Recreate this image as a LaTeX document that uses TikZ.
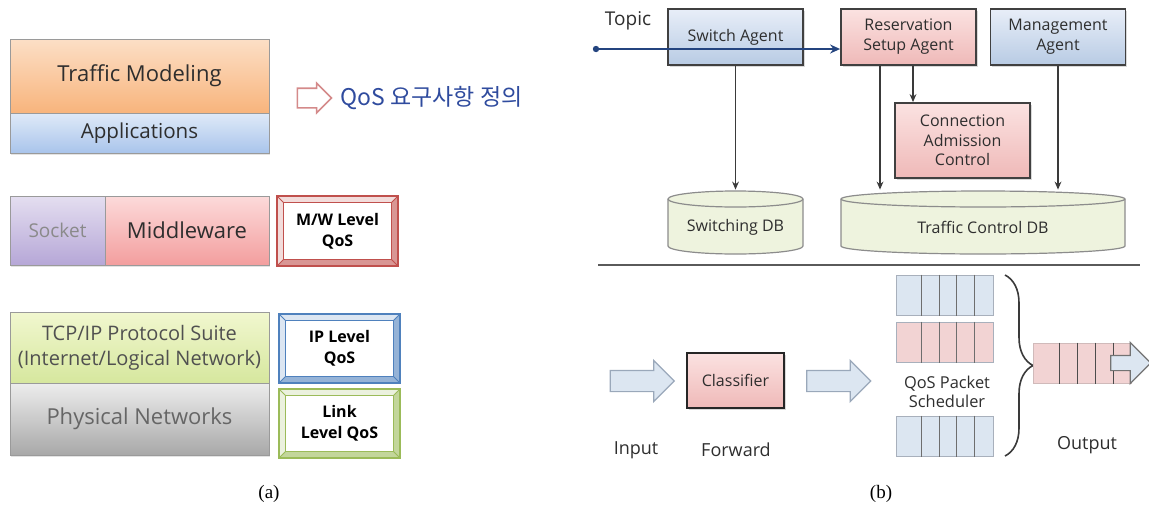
\documentclass[tikz,border=0pt]{standalone}
\usepackage{fontspec}
\setmainfont{Open Sans}
\newfontfamily\krfont{Noto Sans CJK KR}
\newfontfamily\capfont{Liberation Serif}
\usetikzlibrary{shapes.arrows,calc,decorations.pathreplacing,shadows,arrows.meta}

\definecolor{txtdark}{HTML}{2E2E2E}
\definecolor{lyrline}{HTML}{9A9A9A}
\definecolor{tmtop}{HTML}{FCDFC6}
\definecolor{tmbot}{HTML}{F8B47C}
\definecolor{apptop}{HTML}{DFEAF8}
\definecolor{appbot}{HTML}{A9C4EB}
\definecolor{socktop}{HTML}{E4DEF0}
\definecolor{sockbot}{HTML}{B6A7D7}
\definecolor{socktext}{HTML}{8A8A8A}
\definecolor{midtop}{HTML}{FCDADA}
\definecolor{midbot}{HTML}{F39E9E}
\definecolor{tcptop}{HTML}{F1F7CF}
\definecolor{tcpbot}{HTML}{D6E79E}
\definecolor{tcptext}{HTML}{505050}
\definecolor{phytop}{HTML}{EDEDED}
\definecolor{phybot}{HTML}{A8A8A8}
\definecolor{phytext}{HTML}{666666}
\definecolor{krblue}{HTML}{2F4B9E}
\definecolor{hollowline}{HTML}{D48A8A}
\definecolor{mwline}{HTML}{C0504D}
\definecolor{mwlight}{HTML}{F2DCDB}
\definecolor{mwdark}{HTML}{D99694}
\definecolor{ipline}{HTML}{4F81BD}
\definecolor{iplight}{HTML}{DCE6F2}
\definecolor{ipdark}{HTML}{95B3D7}
\definecolor{lkline}{HTML}{9BBB59}
\definecolor{lklight}{HTML}{EBF1DE}
\definecolor{lkdark}{HTML}{C3D69B}
\definecolor{agentline}{HTML}{404040}
\definecolor{bluetop}{HTML}{E8EEF8}
\definecolor{bluebot}{HTML}{B8CBE4}
\definecolor{pinktop}{HTML}{FBE2E1}
\definecolor{pinkbot}{HTML}{EFB9B8}
\definecolor{connline}{HTML}{3A3A3A}
\definecolor{topicblue}{HTML}{24447F}
\definecolor{dbfill}{HTML}{EEF3DE}
\definecolor{dbline}{HTML}{8C8C8C}
\definecolor{rulegray}{HTML}{5A5A5A}
\definecolor{arrfill}{HTML}{DCE6F1}
\definecolor{arrline}{HTML}{9AA8BA}
\definecolor{qblue}{HTML}{DCE6F1}
\definecolor{qpink}{HTML}{F2D3D3}
\definecolor{qline}{HTML}{A8B0BC}
\definecolor{divline}{HTML}{6E6E6E}

\newcommand\fs[2]{\fontsize{#1}{#2}\selectfont}
\newcommand\bevelframe[4]{%
  \fill[#3] (#1.north west) -- (#1.north east) -- ($(#1.north east)+(-7,7)$) -- ($(#1.north west)+(7,7)$) -- cycle;
  \fill[#3] (#1.north west) -- ($(#1.north west)+(7,7)$) -- ($(#1.south west)+(7,-7)$) -- (#1.south west) -- cycle;
  \fill[#4] (#1.north east) -- (#1.south east) -- ($(#1.south east)+(-7,-7)$) -- ($(#1.north east)+(-7,7)$) -- cycle;
  \fill[#4] (#1.south west) -- (#1.south east) -- ($(#1.south east)+(-7,-7)$) -- ($(#1.south west)+(7,-7)$) -- cycle;
  \draw[#2, line width=0.5pt] (#1.north west) -- ($(#1.north west)+(7,7)$) (#1.north east) -- ($(#1.north east)+(-7,7)$)
       (#1.south west) -- ($(#1.south west)+(7,-7)$) (#1.south east) -- ($(#1.south east)+(-7,-7)$);
  \draw[#2, line width=1pt] (#1.north west) rectangle (#1.south east);
  \draw[#2, line width=0.6pt] ($(#1.north west)+(7,7)$) rectangle ($(#1.south east)+(-7,-7)$);
}
\newcommand\dbcyl[3]{%
  \filldraw[fill=dbfill, draw=dbline, line width=0.6pt] (#1,199) -- (#1,246)
     arc[start angle=180, end angle=360, x radius=#3, y radius=4pt] -- (#2,199)
     arc[start angle=0, end angle=180, x radius=#3, y radius=4pt] -- cycle;
  \draw[dbline, line width=0.6pt] (#1,199) arc[start angle=180, end angle=360, x radius=#3, y radius=4pt];
}

\begin{document}
\begin{tikzpicture}[x=0.5pt,y=-0.5pt,
  lyr/.style={draw=lyrline, line width=0.5pt, inner sep=0pt, align=center, text=txtdark,
    drop shadow={shadow xshift=0.6pt, shadow yshift=-0.9pt, opacity=0.22}},
  bevelnode/.style={fill=white, inner sep=0pt, minimum width=60.5pt, minimum height=34.5pt,
    align=center, font=\bfseries\fs{8}{10.3}, text=black},
  agent/.style={draw=agentline, line width=0.9pt, inner sep=0pt, align=center,
    minimum width=67.5pt, minimum height=28pt, font=\fs{8}{10}, text=txtdark,
    drop shadow={shadow xshift=0.8pt, shadow yshift=-0.8pt, opacity=0.3}},
  blueg/.style={top color=bluetop, bottom color=bluebot},
  pinkg/.style={top color=pinktop, bottom color=pinkbot},
  conn/.style={draw=connline, line width=0.6pt, -{Stealth[length=4pt,width=3.4pt]}},
  hollowarr/.style={single arrow, draw=hollowline, fill=white, line width=0.8pt,
    minimum height=17pt, minimum width=14pt, inner xsep=0pt, inner ysep=4.5pt,
    single arrow head extend=2.5pt},
  blockarr/.style={single arrow, draw=arrline, fill=arrfill, line width=0.6pt,
    minimum height=32pt, minimum width=20pt, inner xsep=0pt, inner ysep=5pt,
    single arrow head extend=5pt},
  queue/.style={draw=qline, line width=0.5pt, minimum width=48.5pt, minimum height=20pt, inner sep=0pt},
  divider/.style={divline, line width=0.6pt},
  lbl/.style={font=\fs{9}{11}, text=txtdark},
  dbtxt/.style={font=\fs{8}{10}, text=txtdark, minimum height=37pt, inner sep=0pt},
  captxt/.style={font=\capfont\fs{9.5}{11}, text=black}
]
\useasboundingbox (0,0) rectangle (1149,509);

% ---------------- (a) ----------------
\node[lyr, top color=tmtop, bottom color=tmbot, minimum width=129.5pt, minimum height=37pt,
      font=\fs{11}{13}] (tm) at (139.5,76) {Traffic Modeling};
\node[lyr, top color=apptop, bottom color=appbot, minimum width=129.5pt, minimum height=20pt,
      font=\fs{10.3}{12}] (app) at (139.5,133) {Applications};
\node[hollowarr] (qarr) at (309.5,98) {};
\node[font=\krfont\fs{11.5}{13}, text=krblue, anchor=west, inner sep=0pt] (qtxt) at (340,98) {QoS 요구사항 정의};

\node[lyr, top color=socktop, bottom color=sockbot, minimum width=47.5pt, minimum height=34.5pt,
      font=\fs{9.5}{11}, text=socktext] (sock) at (57.5,230.5) {Socket};
\node[lyr, top color=midtop, bottom color=midbot, minimum width=82pt, minimum height=34.5pt,
      font=\fs{11}{13}] (mid) at (187,230.5) {Middleware};
\node[bevelnode, minimum height=35pt] (mw) at (337.5,231) {M/W Level\\QoS};
\bevelframe{mw}{mwline}{mwlight}{mwdark}

\node[lyr, top color=tcptop, bottom color=tcpbot, minimum width=129.5pt, minimum height=35.5pt,
      font=\fs{10}{12.5}, text=tcptext] (tcp) at (139.5,347.5) {TCP/IP Protocol Suite\\(Internet/Logical Network)};
\node[lyr, top color=phytop, bottom color=phybot, minimum width=129.5pt, minimum height=36pt,
      font=\fs{11}{13}, text=phytext] (phy) at (139.5,419) {Physical Networks};
\node[bevelnode] (ip) at (339.5,348.5) {IP Level\\QoS};
\bevelframe{ip}{ipline}{iplight}{ipdark}
\node[bevelnode] (link) at (339.5,423.5) {Link\\Level QoS};
\bevelframe{link}{lkline}{lklight}{lkdark}

\node[captxt] (capa) at (269,494) {(a)};

% ---------------- (b) ----------------
\node[font=\fs{9.5}{11}, text=txtdark] (topic) at (628,21) {Topic};
\node[agent, blueg] (sa) at (735.5,37) {Switch Agent};
\node[agent, pinkg] (rsa) at (908.5,37) {Reservation\\Setup Agent};
\node[agent, blueg] (ma) at (1058,37) {Management\\Agent};
\node[agent, pinkg, minimum height=37.5pt, font=\fs{8}{9.75}] (cac) at (962.5,140.5) {Connection\\Admission\\Control};

\dbcyl{668}{803}{33.75pt}
\dbcyl{841}{1125}{71pt}
\node[dbtxt, minimum width=67.5pt] (swdb) at (735.5,227) {Switching DB};
\node[dbtxt, minimum width=142pt] (tcdb) at (983,227) {Traffic Control DB};

\draw[conn] (sa.south) -- (sa.south |- swdb.north);
\coordinate (r1) at ([xshift=-14.25pt]rsa.south);
\coordinate (r2) at ([xshift=2.25pt]rsa.south);
\draw[conn] (r1) -- (r1 |- tcdb.north);
\draw[conn] (r2) -- (r2 |- cac.north);
\draw[conn] (ma.south) -- (ma.south |- tcdb.north);

\coordinate (tstart) at (596,49);
\draw[topicblue, line width=1pt, -{Stealth[length=5pt,width=4.5pt]}] (tstart) -- (tstart -| rsa.west);
\fill[topicblue] (tstart) circle[radius=1.6pt];

\draw[rulegray, line width=1pt] (598,265) -- (1140,265);

\node[blockarr] (inarr) at (637,381) {};
\node[draw=black!85, line width=1.1pt, pinkg, minimum width=48.5pt, minimum height=27.5pt, inner sep=0pt,
      font=\fs{8}{10}, text=txtdark, drop shadow={shadow xshift=0.8pt, shadow yshift=-0.8pt, opacity=0.3}]
      (cls) at (735.5,380.5) {Classifier};
\node[blockarr] (fwdarr) at (833.5,381) {};

\node[queue, fill=qblue] (q1) at (944.5,295) {};
\node[queue, fill=qpink] (q2) at (944.5,342) {};
\node[queue, fill=qblue] (q3) at (944.5,436) {};
\foreach \q in {q1,q2,q3}{
  \foreach \d in {26,44,61,79}{
    \draw[divider] ($(\q.north west)+(\d,0)$) -- ($(\q.south west)+(\d,0)$);
  }
}
\node[font=\fs{8.2}{9.6}, text=txtdark, align=center] (sched) at (947,392) {QoS Packet\\Scheduler};

\coordinate (bt) at (1005,275);
\coordinate (bb) at (1005,456);
\draw[connline, line width=0.8pt, decorate, decoration={brace, amplitude=14pt}] (bt) -- (bb);

\node[queue, fill=qpink, draw=qpink!70!gray, minimum width=49pt] (outq) at (1082,363) {};
\foreach \d in {27,45,63,81}{
  \draw[divider, draw=black!70] ($(outq.north west)+(\d,0)$) -- ($(outq.south west)+(\d,0)$);
}
\node[single arrow, draw=black!55, fill=arrfill, line width=0.6pt, minimum height=20pt, minimum width=20pt,
      inner xsep=0pt, inner ysep=3.5pt, single arrow head extend=6.5pt] (oarr) at (1127,363) {};

\node[lbl] (inlbl) at (636,450) {Input};
\node[lbl] (fwlbl) at (736,450) {Forward};
\node[lbl] (outlbl) at (1087,445) {Output};

\node[captxt] (capb) at (881,494) {(b)};
\end{tikzpicture}
\end{document}
